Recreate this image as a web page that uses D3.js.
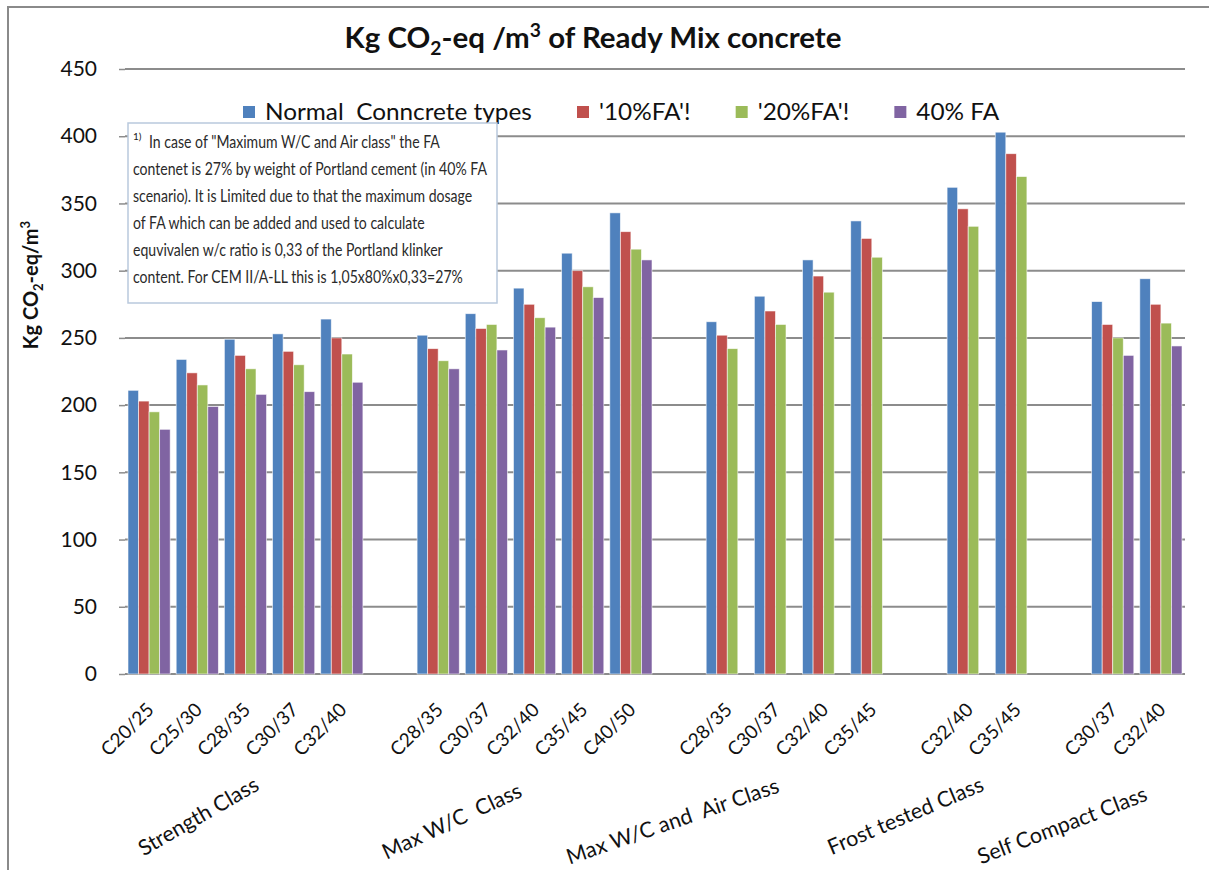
<!DOCTYPE html>
<html>
<head>
<meta charset="utf-8">
<script src="https://cdn.jsdelivr.net/npm/d3@7"></script>
<style>
  body { margin: 0; background: #fff; }
  text { font-family: Lato, "Open Sans", sans-serif; white-space: pre; }
</style>
</head>
<body>
<svg id="chart" width="1209" height="870"></svg>
<script>
// ---- data ----
const groups = ["Strength Class", "Max W/C  Class", "Max W/C and  Air Class", "Frost tested Class", "Self Compact Class"];
const categories = [
  ["C20/25", "C25/30", "C28/35", "C30/37", "C32/40"],
  ["C28/35", "C30/37", "C32/40", "C35/45", "C40/50"],
  ["C28/35", "C30/37", "C32/40", "C35/45"],
  ["C32/40", "C35/45"],
  ["C30/37", "C32/40"]
];
const seriesNames = ["Normal  Conncrete types", "'10%FA'!", "'20%FA'!", "40% FA"];
const normalValues = [211, 234, 249, 253, 264, 252, 268, 287, 313, 343, 262, 281, 308, 337, 362, 403, 277, 294];
const fa10Values   = [203, 224, 237, 240, 250, 242, 257, 275, 300, 329, 252, 270, 296, 324, 346, 387, 260, 275];
const fa20Values   = [195, 215, 227, 230, 238, 233, 260, 265, 288, 316, 242, 260, 284, 310, 333, 370, 250, 261];
const fa40Values   = [182, 199, 208, 210, 217, 227, 241, 258, 280, 308, null, null, null, null, null, null, 237, 244];
const yTicks = [0, 50, 100, 150, 200, 250, 300, 350, 400, 450];
const noteLines = [
  "In case of \"Maximum W/C and Air class\" the FA",
  "contenet is 27% by weight of Portland cement (in 40% FA",
  "scenario). It is Limited due to that the maximum dosage",
  "of FA which can be added and used to calculate",
  "equvivalen w/c ratio is 0,33 of the Portland klinker",
  "content. For CEM II/A-LL this is 1,05x80%x0,33=27%"
];

const colors = ["#4f81bd", "#c0504d", "#9bbb59", "#8064a2"];
const seriesValues = [normalValues, fa10Values, fa20Values, fa40Values];

// ---- layout ----
const svg = d3.select("#chart");
const plot = { left: 125, right: 1185, top: 69, bottom: 674 };
// placement of the slanted group captions (offset from group centre, baseline y, slant)
const groupLabelLayout = [
  { dx: 15, y: 789, angle: -30 },
  { dx: -11, y: 796, angle: -25 },
  { dx: -19, y: 792, angle: -19 },
  { dx: -7, y: 790, angle: -23 },
  { dx: 12, y: 800, angle: -21 }
];

// horizontal squeeze around an anchor x (narrow, Calibri-like lettering)
function squeeze(sel, ax, sx) {
  sel.attr("transform", `translate(${ax},0) scale(${sx},1) translate(${-ax},0)`);
}

// Slots: every category, plus an empty slot between groups
const slots = [];
let k = 0;
categories.forEach((cats, g) => {
  cats.forEach(c => { slots.push({ id: "s" + slots.length, label: c, group: g, index: k++ }); });
  if (g < categories.length - 1) slots.push({ id: "s" + slots.length, label: null, group: g, index: -1 });
});

const x0 = d3.scaleBand().domain(slots.map(s => s.id)).range([plot.left, plot.right]).padding(0);
const x1 = d3.scaleBand().domain(d3.range(seriesNames.length)).range([3, x0.bandwidth() - 3]).padding(0);
const y = d3.scaleLinear().domain([0, 450]).range([plot.bottom, plot.top]);

// outer chart frame
svg.append("rect")
  .attr("x", 8).attr("y", 7).attr("width", 1240).attr("height", 900)
  .attr("fill", "none").attr("stroke", "#8a8a8a").attr("stroke-width", 2);

// gridlines
svg.append("g").selectAll("line").data(yTicks).join("line")
  .attr("x1", plot.left).attr("x2", plot.right)
  .attr("y1", d => y(d)).attr("y2", d => y(d))
  .attr("stroke", "#8c8c8c").attr("stroke-width", 2);

// y axis
const yAxis = svg.append("g").attr("transform", `translate(${plot.left},0)`)
  .call(d3.axisLeft(y).tickValues(yTicks).tickSize(6).tickPadding(22));
yAxis.select(".domain").remove();
yAxis.selectAll(".tick line").attr("stroke", "#8c8c8c").attr("stroke-width", 1.5);
yAxis.selectAll(".tick text")
  .attr("font-size", 21).attr("fill", "#111").attr("font-family", "Lato, sans-serif");

// bars
const dataSlots = slots.filter(s => s.label !== null);
const barG = svg.append("g");
dataSlots.forEach(s => {
  seriesValues.forEach((vals, si) => {
    const v = vals[s.index];
    if (v == null) return;
    barG.append("rect")
      .attr("x", x0(s.id) + x1(si))
      .attr("y", y(v))
      .attr("width", x1.bandwidth())
      .attr("height", y(0) - y(v))
      .attr("fill", colors[si])
      .attr("stroke", "#ffffff").attr("stroke-opacity", 0.7).attr("stroke-width", 0.8);
  });
});

// category labels
svg.append("g").selectAll("text").data(dataSlots).join("text")
  .attr("transform", d => `translate(${x0(d.id) + x0.bandwidth() / 2 + 6},${711}) rotate(-45)`)
  .attr("text-anchor", "end")
  .attr("font-size", 19).attr("fill", "#111")
  .text(d => d.label);

// group labels
groups.forEach((gName, g) => {
  const gs = dataSlots.filter(s => s.group === g);
  const cx = (x0(gs[0].id) + x0(gs[gs.length - 1].id) + x0.bandwidth()) / 2;
  const L = groupLabelLayout[g];
  svg.append("text")
    .attr("transform", `translate(${cx + L.dx},${L.y}) rotate(${L.angle})`)
    .attr("text-anchor", "end")
    .attr("font-size", 21.5).attr("fill", "#111")
    .text(gName);
});

// y axis title
const yTitle = svg.append("text")
  .attr("transform", "translate(38,285) rotate(-90)")
  .attr("text-anchor", "middle")
  .attr("font-size", 20).attr("font-weight", "bold").attr("fill", "#111");
yTitle.append("tspan").text("Kg CO");
yTitle.append("tspan").attr("font-size", 13).attr("dy", 5).text("2");
yTitle.append("tspan").attr("dy", -5).text("-eq/m");
yTitle.append("tspan").attr("font-size", 13).attr("dy", -8).text("3");

// chart title
const title = svg.append("text")
  .attr("x", 593).attr("y", 48)
  .attr("text-anchor", "middle")
  .attr("font-size", 29).attr("font-weight", "bold").attr("fill", "#111");
title.append("tspan").text("Kg CO");
title.append("tspan").attr("font-size", 19).attr("dy", 7).text("2");
title.append("tspan").attr("dy", -7).text("-eq /m");
title.append("tspan").attr("font-size", 19).attr("dy", -11).text("3");
title.append("tspan").attr("dy", 11).text(" of Ready Mix concrete");
squeeze(title, 593, 497 / title.node().getBBox().width);

// legend
const legend = svg.append("g");
const legendSize = 24;
const probe = legend.append("text").attr("font-size", legendSize).text(seriesNames[0]);
const legendSx = 267 / probe.node().getComputedTextLength();
probe.remove();
let lx = 243;
seriesNames.forEach((name, i) => {
  legend.append("rect").attr("x", lx).attr("y", 106).attr("width", 12).attr("height", 12).attr("fill", colors[i]);
  const t = legend.append("text").attr("x", lx + 22).attr("y", 120)
    .attr("font-size", legendSize).attr("fill", "#111").text(name);
  const w = t.node().getComputedTextLength();
  squeeze(t, lx + 22, legendSx);
  lx += 22 + w * legendSx + 45;
});

// explanatory note box
const note = svg.append("g");
note.append("rect").attr("x", 128).attr("y", 123).attr("width", 369).attr("height", 180)
  .attr("fill", "#fff").attr("stroke", "#b9c9dd").attr("stroke-width", 1.5);
note.append("text").attr("x", 133).attr("y", 140).attr("font-size", 10).attr("fill", "#222").text("1)");
const noteText = note.selectAll("text.line").data(noteLines).join("text")
  .attr("class", "line")
  .attr("x", (d, i) => i === 0 ? 149 : 133)
  .attr("y", (d, i) => 148 + i * 27)
  .attr("font-size", 16.5).attr("fill", "#2a2a2a")
  .text(d => d);
const noteSx = 354 / noteText.filter((d, i) => i === 1).node().getComputedTextLength();
noteText.each(function (d, i) { squeeze(d3.select(this), i === 0 ? 149 : 133, noteSx); });
</script>
</body>
</html>
